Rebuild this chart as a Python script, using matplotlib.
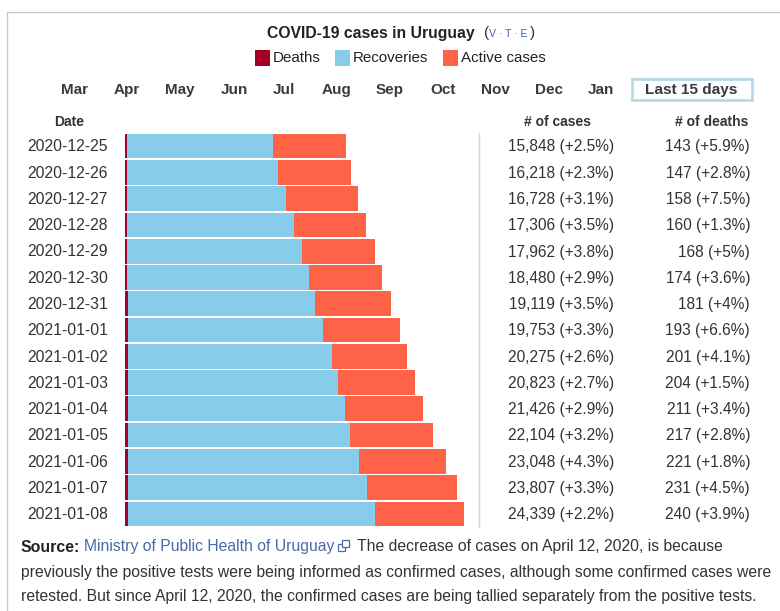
#!/usr/bin/env python3
import matplotlib

matplotlib.use("Agg")
import matplotlib.pyplot as plt
from matplotlib.patches import Rectangle

dates = ["2020-12-25", "2020-12-26", "2020-12-27", "2020-12-28", "2020-12-29",
         "2020-12-30", "2020-12-31", "2021-01-01", "2021-01-02", "2021-01-03",
         "2021-01-04", "2021-01-05", "2021-01-06", "2021-01-07", "2021-01-08"]
cases = [15848, 16218, 16728, 17306, 17962, 18480, 19119, 19753, 20275, 20823,
         21426, 22104, 23048, 23807, 24339]
deaths = [143, 147, 158, 160, 168, 174, 181, 193, 201, 204, 211, 217, 221, 231, 240]
recoveries = [10480, 10810, 11370, 11970, 12540, 13035, 13460, 14020, 14660, 15090,
              15580, 15935, 16580, 17140, 17710]
case_labels = ["15,848 (+2.5%)", "16,218 (+2.3%)", "16,728 (+3.1%)", "17,306 (+3.5%)",
               "17,962 (+3.8%)", "18,480 (+2.9%)", "19,119 (+3.5%)", "19,753 (+3.3%)",
               "20,275 (+2.6%)", "20,823 (+2.7%)", "21,426 (+2.9%)", "22,104 (+3.2%)",
               "23,048 (+4.3%)", "23,807 (+3.3%)", "24,339 (+2.2%)"]
death_labels = ["143 (+5.9%)", "147 (+2.8%)", "158 (+7.5%)", "160 (+1.3%)", "168 (+5%)",
                "174 (+3.6%)", "181 (+4%)", "193 (+6.6%)", "201 (+4.1%)", "204 (+1.5%)",
                "211 (+3.4%)", "217 (+2.8%)", "221 (+1.8%)", "231 (+4.5%)", "240 (+3.9%)"]
months = ["Mar", "Apr", "May", "Jun", "Jul", "Aug", "Sep", "Oct", "Nov", "Dec", "Jan"]
month_x = [74, 127, 180, 234, 284, 336, 390, 443, 495, 549, 601]

W, H = 780, 611
DEATH_C, REC_C, ACT_C = "#a50026", "#87cceb", "#ff6347"
TEXT_C = "#333333"

plt.rcParams["font.family"] = ["Liberation Sans", "DejaVu Sans"]
fig = plt.figure(figsize=(W / 100, H / 100), dpi=100)

# page layer in pixel coordinates, y going down
page = fig.add_axes([0, 0, 1, 1])
page.set_xlim(0, W)
page.set_ylim(H, 0)
page.axis("off")

# the bars sit on their own axes, 125-464 px wide for the largest total
left, right, top, bottom = 125, 464, 133, 527
ax = fig.add_axes([left / W, 1 - bottom / H, (right - left) / W, (bottom - top) / H])
ax.patch.set_alpha(0)
active = [c - d - r for c, d, r in zip(cases, deaths, recoveries)]
rows = range(len(dates))
bar_h = 0.94
ax.barh(rows, deaths, height=bar_h, color=DEATH_C)
ax.barh(rows, recoveries, left=deaths, height=bar_h, color=REC_C)
ax.barh(rows, active, left=[d + r for d, r in zip(deaths, recoveries)], height=bar_h, color=ACT_C)
ax.set_xlim(0, max(cases))
ax.set_ylim(len(dates) - 0.5, -0.5)
ax.axis("off")

row_h = (bottom - top) / len(dates)
for i in rows:
    y = top + (i + 0.5) * row_h + 0.8
    page.text(108, y, dates[i], ha="right", va="center", fontsize=11.3, color=TEXT_C)
    page.text(614, y, case_labels[i], ha="right", va="center", fontsize=11.2, color=TEXT_C)
    page.text(750, y, death_labels[i], ha="right", va="center", fontsize=11.2, color=TEXT_C)

# frame and separator
page.plot([7, W], [12, 12], color="#c8ccd1", lw=1)
page.plot([7, 7], [12, H], color="#c8ccd1", lw=1)
page.plot([479, 479], [133, 527], color="#d5d5d5", lw=1)

# title
page.text(370.5, 33.5, "COVID-19 cases in Uruguay", ha="center", va="center",
          fontsize=11.3, fontweight="bold", color="#222222")
page.text(484, 33.5, "(", ha="left", va="center", fontsize=11, color=TEXT_C)
page.text(489, 34, "V · T · E", ha="left", va="center", fontsize=7.6, color="#3366bb")
page.text(530, 33.5, ")", ha="left", va="center", fontsize=11, color=TEXT_C)

# legend
legend = [(255, "Deaths", DEATH_C), (335, "Recoveries", REC_C), (443, "Active cases", ACT_C)]
for x, label, col in legend:
    page.add_patch(Rectangle((x, 50), 15, 16, color=col, lw=0))
    page.text(x + 18, 58, label, ha="left", va="center", fontsize=10.9, color="#222222")

# month selector
for x, m in zip(month_x, months):
    page.text(x, 90, m, ha="center", va="center", fontsize=11, fontweight="bold", color="#3a3a3a")
page.add_patch(Rectangle((632, 79), 120, 21, fc="white", ec="#b5dbe7", lw=2))
page.text(691, 90, "Last 15 days", ha="center", va="center", fontsize=11.1,
          fontweight="bold", color="#3a3a3a")

# column headers
page.text(69, 122, "Date", ha="center", va="center", fontsize=10, fontweight="bold", color=TEXT_C)
page.text(557, 122, "# of cases", ha="center", va="center", fontsize=10, fontweight="bold", color=TEXT_C)
page.text(712, 122, "# of deaths", ha="center", va="center", fontsize=10, fontweight="bold", color=TEXT_C)

# source note
page.text(21, 547, "Source:", ha="left", va="center", fontsize=11.4, fontweight="bold", color="#222222")
page.text(84, 547, "Ministry of Public Health of Uruguay", ha="left", va="center", fontsize=11.3, color="#4a69a8")
page.add_patch(Rectangle((338, 544), 7, 7, fc="none", ec="#4a69a8", lw=0.9))
page.add_patch(Rectangle((342, 540), 7, 7, fc="white", ec="#4a69a8", lw=0.9))
page.text(357, 547, "The decrease of cases on April 12, 2020, is because", ha="left", va="center",
          fontsize=11.35, color=TEXT_C)
page.text(21, 572, "previously the positive tests were being informed as confirmed cases, although some confirmed cases were",
          ha="left", va="center", fontsize=11.33, color=TEXT_C)
page.text(21, 596, "retested. But since April 12, 2020, the confirmed cases are being tallied separately from the positive tests.",
          ha="left", va="center", fontsize=11.33, color=TEXT_C)

fig.savefig("out.png", dpi=100)
